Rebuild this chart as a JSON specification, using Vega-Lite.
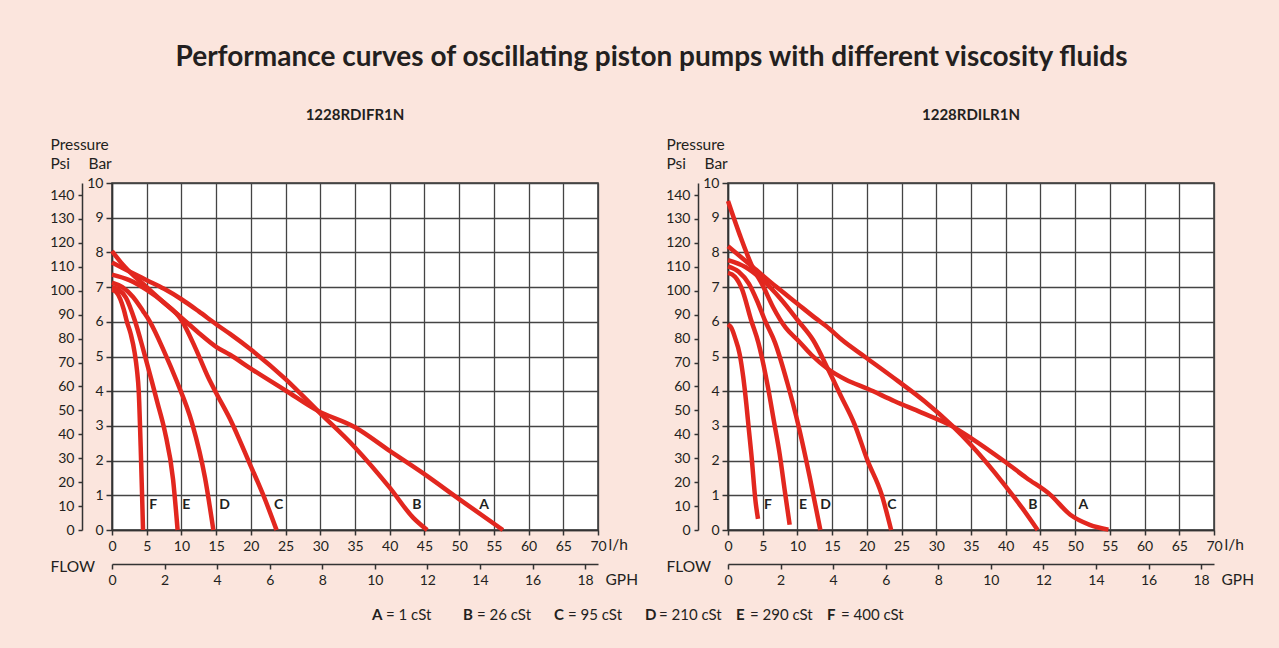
{
  "$schema": "https://vega.github.io/schema/vega-lite/v6.json",
  "background": "#fbe5dd",
  "padding": {"left": 48, "top": 44, "right": 60, "bottom": 40},
  "config": {
    "font": "Lato",
    "view": {"fill": "white", "stroke": "#333", "strokeWidth": 1.5},
    "axis": {
      "labelFont": "Lato", "labelFontSize": 14, "labelColor": "#231f20",
      "domainColor": "#333", "tickColor": "#333", "domainWidth": 1.5, "tickWidth": 1.5,
      "titleFont": "Lato", "titleFontSize": 15.5, "titleFontWeight": "normal", "titleColor": "#231f20",
      "gridColor": "#444", "gridWidth": 1.3, "gridOpacity": 1,
      "labelFlush": false, "labelOverlap": false, "labelBound": false
    }
  },
  "title": {"text": "Performance curves of oscillating piston pumps with different viscosity fluids", "font": "Lato", "fontSize": 28, "fontWeight": "bold", "color": "#231f20", "anchor": "middle", "offset": 35},
  "datasets": {
    "curves": [
      {"panel":"L","curve":"A","flow":0,"bar":8.04},{"panel":"L","curve":"A","flow":1.25,"bar":7.72},{"panel":"L","curve":"A","flow":2.5,"bar":7.45},{"panel":"L","curve":"A","flow":5,"bar":7.0},{"panel":"L","curve":"A","flow":7.5,"bar":6.55},{"panel":"L","curve":"A","flow":10,"bar":6.12},{"panel":"L","curve":"A","flow":12.5,"bar":5.68},{"panel":"L","curve":"A","flow":15,"bar":5.28},{"panel":"L","curve":"A","flow":17,"bar":5.05},{"panel":"L","curve":"A","flow":20,"bar":4.65},{"panel":"L","curve":"A","flow":25,"bar":4.02},{"panel":"L","curve":"A","flow":29.6,"bar":3.44},{"panel":"L","curve":"A","flow":35,"bar":2.96},{"panel":"L","curve":"A","flow":40,"bar":2.28},{"panel":"L","curve":"A","flow":45,"bar":1.61},{"panel":"L","curve":"A","flow":50,"bar":0.89},{"panel":"L","curve":"A","flow":56.3,"bar":0},
      {"panel":"L","curve":"B","flow":0,"bar":7.71},{"panel":"L","curve":"B","flow":2.5,"bar":7.45},{"panel":"L","curve":"B","flow":5,"bar":7.2},{"panel":"L","curve":"B","flow":7.5,"bar":6.95},{"panel":"L","curve":"B","flow":10,"bar":6.65},{"panel":"L","curve":"B","flow":12.5,"bar":6.3},{"panel":"L","curve":"B","flow":15,"bar":5.93},{"panel":"L","curve":"B","flow":17,"bar":5.65},{"panel":"L","curve":"B","flow":20,"bar":5.2},{"panel":"L","curve":"B","flow":25,"bar":4.35},{"panel":"L","curve":"B","flow":29.6,"bar":3.44},{"panel":"L","curve":"B","flow":35,"bar":2.38},{"panel":"L","curve":"B","flow":40,"bar":1.22},{"panel":"L","curve":"B","flow":43.4,"bar":0.35},{"panel":"L","curve":"B","flow":45.4,"bar":0},
      {"panel":"L","curve":"C","flow":0,"bar":7.36},{"panel":"L","curve":"C","flow":2.5,"bar":7.2},{"panel":"L","curve":"C","flow":5,"bar":6.92},{"panel":"L","curve":"C","flow":7.5,"bar":6.55},{"panel":"L","curve":"C","flow":10,"bar":6.05},{"panel":"L","curve":"C","flow":12,"bar":5.25},{"panel":"L","curve":"C","flow":13.85,"bar":4.4},{"panel":"L","curve":"C","flow":15,"bar":3.95},{"panel":"L","curve":"C","flow":17,"bar":3.2},{"panel":"L","curve":"C","flow":19.86,"bar":1.9},{"panel":"L","curve":"C","flow":22,"bar":0.9},{"panel":"L","curve":"C","flow":23.7,"bar":0},
      {"panel":"L","curve":"D","flow":0,"bar":7.13},{"panel":"L","curve":"D","flow":1.5,"bar":7.0},{"panel":"L","curve":"D","flow":3,"bar":6.72},{"panel":"L","curve":"D","flow":4.5,"bar":6.3},{"panel":"L","curve":"D","flow":5.47,"bar":6.0},{"panel":"L","curve":"D","flow":7.5,"bar":5.15},{"panel":"L","curve":"D","flow":9.3,"bar":4.3},{"panel":"L","curve":"D","flow":11.5,"bar":3.1},{"panel":"L","curve":"D","flow":13.4,"bar":1.5},{"panel":"L","curve":"D","flow":14.6,"bar":0},
      {"panel":"L","curve":"E","flow":0,"bar":7.0},{"panel":"L","curve":"E","flow":1,"bar":6.92},{"panel":"L","curve":"E","flow":2,"bar":6.7},{"panel":"L","curve":"E","flow":3.3,"bar":6.03},{"panel":"L","curve":"E","flow":4.5,"bar":5.2},{"panel":"L","curve":"E","flow":5.72,"bar":4.3},{"panel":"L","curve":"E","flow":6.5,"bar":3.7},{"panel":"L","curve":"E","flow":7.6,"bar":2.85},{"panel":"L","curve":"E","flow":8.8,"bar":1.45},{"panel":"L","curve":"E","flow":9.45,"bar":0},
      {"panel":"L","curve":"F","flow":0,"bar":6.92},{"panel":"L","curve":"F","flow":0.6,"bar":6.86},{"panel":"L","curve":"F","flow":1.2,"bar":6.65},{"panel":"L","curve":"F","flow":1.7,"bar":6.35},{"panel":"L","curve":"F","flow":2.15,"bar":6.0},{"panel":"L","curve":"F","flow":2.7,"bar":5.65},{"panel":"L","curve":"F","flow":3.27,"bar":5.1},{"panel":"L","curve":"F","flow":3.6,"bar":4.6},{"panel":"L","curve":"F","flow":3.85,"bar":4.0},{"panel":"L","curve":"F","flow":4.13,"bar":2.4},{"panel":"L","curve":"F","flow":4.33,"bar":1.03},{"panel":"L","curve":"F","flow":4.47,"bar":0},
      {"panel":"R","curve":"A","flow":0,"bar":9.48},{"panel":"R","curve":"A","flow":1.67,"bar":8.52},{"panel":"R","curve":"A","flow":3.57,"bar":7.56},{"panel":"R","curve":"A","flow":5,"bar":7.05},{"panel":"R","curve":"A","flow":6.5,"bar":6.42},{"panel":"R","curve":"A","flow":8.3,"bar":5.83},{"panel":"R","curve":"A","flow":10.2,"bar":5.44},{"panel":"R","curve":"A","flow":12,"bar":5.05},{"panel":"R","curve":"A","flow":14.4,"bar":4.64},{"panel":"R","curve":"A","flow":17,"bar":4.33},{"panel":"R","curve":"A","flow":20.1,"bar":4.07},{"panel":"R","curve":"A","flow":24,"bar":3.71},{"panel":"R","curve":"A","flow":27.8,"bar":3.39},{"panel":"R","curve":"A","flow":32.2,"bar":3.0},{"panel":"R","curve":"A","flow":35,"bar":2.65},{"panel":"R","curve":"A","flow":39.8,"bar":1.98},{"panel":"R","curve":"A","flow":43,"bar":1.5},{"panel":"R","curve":"A","flow":46.4,"bar":1.02},{"panel":"R","curve":"A","flow":49.3,"bar":0.44},{"panel":"R","curve":"A","flow":52.1,"bar":0.15},{"panel":"R","curve":"A","flow":54.8,"bar":0.01},
      {"panel":"R","curve":"B","flow":0,"bar":8.18},{"panel":"R","curve":"B","flow":3.57,"bar":7.58},{"panel":"R","curve":"B","flow":7,"bar":7.0},{"panel":"R","curve":"B","flow":10,"bar":6.52},{"panel":"R","curve":"B","flow":12.5,"bar":6.12},{"panel":"R","curve":"B","flow":14.6,"bar":5.8},{"panel":"R","curve":"B","flow":16.4,"bar":5.48},{"panel":"R","curve":"B","flow":19.8,"bar":4.98},{"panel":"R","curve":"B","flow":24.5,"bar":4.29},{"panel":"R","curve":"B","flow":28.3,"bar":3.71},{"panel":"R","curve":"B","flow":32.2,"bar":3.02},{"panel":"R","curve":"B","flow":35,"bar":2.45},{"panel":"R","curve":"B","flow":39.8,"bar":1.31},{"panel":"R","curve":"B","flow":42.5,"bar":0.6},{"panel":"R","curve":"B","flow":44.6,"bar":0},
      {"panel":"R","curve":"C","flow":0,"bar":7.78},{"panel":"R","curve":"C","flow":2.5,"bar":7.58},{"panel":"R","curve":"C","flow":5,"bar":7.2},{"panel":"R","curve":"C","flow":7.5,"bar":6.68},{"panel":"R","curve":"C","flow":10.1,"bar":6.03},{"panel":"R","curve":"C","flow":12.3,"bar":5.46},{"panel":"R","curve":"C","flow":14.4,"bar":4.64},{"panel":"R","curve":"C","flow":16.3,"bar":3.85},{"panel":"R","curve":"C","flow":18.2,"bar":3.06},{"panel":"R","curve":"C","flow":20.1,"bar":2.0},{"panel":"R","curve":"C","flow":22.1,"bar":1.04},{"panel":"R","curve":"C","flow":23.5,"bar":0},
      {"panel":"R","curve":"D","flow":0,"bar":7.6},{"panel":"R","curve":"D","flow":1.5,"bar":7.45},{"panel":"R","curve":"D","flow":3,"bar":7.1},{"panel":"R","curve":"D","flow":4.2,"bar":6.6},{"panel":"R","curve":"D","flow":5.3,"bar":6.05},{"panel":"R","curve":"D","flow":6.77,"bar":5.4},{"panel":"R","curve":"D","flow":8.6,"bar":4.2},{"panel":"R","curve":"D","flow":10.1,"bar":3.05},{"panel":"R","curve":"D","flow":11.75,"bar":1.55},{"panel":"R","curve":"D","flow":13.3,"bar":0},
      {"panel":"R","curve":"E","flow":0,"bar":7.41},{"panel":"R","curve":"E","flow":1,"bar":7.3},{"panel":"R","curve":"E","flow":2,"bar":6.95},{"panel":"R","curve":"E","flow":3.36,"bar":6.03},{"panel":"R","curve":"E","flow":4.37,"bar":5.4},{"panel":"R","curve":"E","flow":5.76,"bar":4.11},{"panel":"R","curve":"E","flow":6.6,"bar":3.15},{"panel":"R","curve":"E","flow":7.44,"bar":2.19},{"panel":"R","curve":"E","flow":8.2,"bar":1.1},{"panel":"R","curve":"E","flow":8.88,"bar":0.15},
      {"panel":"R","curve":"F","flow":0,"bar":5.93},{"panel":"R","curve":"F","flow":0.5,"bar":5.82},{"panel":"R","curve":"F","flow":1,"bar":5.55},{"panel":"R","curve":"F","flow":1.68,"bar":5.07},{"panel":"R","curve":"F","flow":2.2,"bar":4.4},{"panel":"R","curve":"F","flow":2.64,"bar":3.63},{"panel":"R","curve":"F","flow":3.0,"bar":2.9},{"panel":"R","curve":"F","flow":3.36,"bar":2.19},{"panel":"R","curve":"F","flow":3.98,"bar":0.8},{"panel":"R","curve":"F","flow":4.32,"bar":0.32}
    ],
    "labels": [
      {"panel":"L","label":"F","flow":5.93,"bar":0.73},{"panel":"L","label":"E","flow":10.7,"bar":0.73},{"panel":"L","label":"D","flow":16.2,"bar":0.73},{"panel":"L","label":"C","flow":24.0,"bar":0.73},{"panel":"L","label":"B","flow":43.9,"bar":0.73},{"panel":"L","label":"A","flow":53.6,"bar":0.73},
      {"panel":"R","label":"F","flow":5.76,"bar":0.73},{"panel":"R","label":"E","flow":10.8,"bar":0.73},{"panel":"R","label":"D","flow":14.05,"bar":0.73},{"panel":"R","label":"C","flow":23.6,"bar":0.73},{"panel":"R","label":"B","flow":43.9,"bar":0.73},{"panel":"R","label":"A","flow":51.2,"bar":0.73}
    ],
    "legend": [
      {"letter":"A","desc":"= 1 cSt"},{"letter":"B","desc":"= 26 cSt"},{"letter":"C","desc":"= 95 cSt"},{"letter":"D","desc":"= 210 cSt"},{"letter":"E","desc":"= 290 cSt"},{"letter":"F","desc":"= 400 cSt"}
    ]
  },
  "vconcat": [
    {
      "hconcat": [
        {
          "width": 486, "height": 347,
          "title": {"text": "1228RDIFR1N", "fontSize": 15, "fontWeight": "bold", "color": "#231f20", "anchor": "middle", "frame": "group", "offset": 14},
          "layer": [
            {
              "data": {"name": "curves"},
              "transform": [{"filter": "datum.panel === 'L'"}],
              "mark": {"type": "line", "color": "#e2271f", "strokeWidth": 4.5, "interpolate": "monotone"},
              "encoding": {
                "x": {"field": "flow", "type": "quantitative", "scale": {"domain": [0, 70], "nice": false},
                  "axis": {"orient": "bottom", "values": [0,5,10,15,20,25,30,35,40,45,50,55,60,65,70], "grid": true, "tickSize": 5, "labelPadding": 4, "title": "l/h", "titleX": 496, "titleY": 19, "titleAlign": "left", "titleBaseline": "alphabetic"}},
                "y": {"field": "bar", "type": "quantitative", "scale": {"domain": [0, 10], "nice": false},
                  "axis": {"orient": "left", "values": [0,1,2,3,4,5,6,7,8,9,10], "grid": true, "tickSize": 6, "labelPadding": 3, "title": "Bar", "titleAngle": 0, "titleX": -24, "titleY": -15, "titleAlign": "left", "titleBaseline": "alphabetic"}},
                "detail": {"field": "curve"}
              }
            },
            {
              "data": {"name": "labels"},
              "transform": [{"filter": "datum.panel === 'L'"}],
              "mark": {"type": "text", "fontWeight": "bold", "fontSize": 14, "color": "#231f20"},
              "encoding": {
                "x": {"field": "flow", "type": "quantitative",
                  "axis": {"orient": "bottom", "offset": 34, "values": [0,7.57082,15.14164,22.71246,30.28328,37.8541,45.42492,52.99574,60.56656,68.13738], "labelExpr": "format(datum.value/3.78541,'.0f')", "grid": false, "tickSize": 5, "labelPadding": 4, "title": "GPH", "titleX": 493, "titleY": 20, "titleAlign": "left", "titleBaseline": "alphabetic"}},
                "y": {"field": "bar", "type": "quantitative",
                  "axis": {"orient": "left", "offset": 30, "values": [0,0.689475,1.37895,2.068427,2.757903,3.447379,4.136854,4.82633,5.515806,6.205281,6.894757,7.584233,8.273709,8.963184,9.65266], "labelExpr": "format(datum.value*14.5038,'.0f')", "grid": false, "tickSize": 4, "labelPadding": 4, "title": ["Pressure", "Psi"], "titleAngle": 0, "titleX": -32, "titleY": -34, "titleAlign": "left", "titleBaseline": "alphabetic", "titleLineHeight": 19}},
                "text": {"field": "label"}
              }
            },
            {
              "data": {"name": "labels"},
              "transform": [{"filter": "datum.panel === 'L'"}],
              "mark": {"type": "text", "opacity": 0},
              "encoding": {
                "x": {"field": "flow", "type": "quantitative",
                  "axis": {"orient": "bottom", "offset": 34, "domain": false, "ticks": false, "labels": false, "grid": false, "title": "FLOW", "titleX": -62, "titleY": 7, "titleAlign": "left", "titleBaseline": "alphabetic"}},
                "y": {"field": "bar", "type": "quantitative", "axis": null},
                "text": {"field": "label"}
              }
            }
          ],
          "resolve": {"axis": {"x": "independent", "y": "independent"}}
        },
        {
          "width": 486, "height": 347,
          "title": {"text": "1228RDILR1N", "fontSize": 15, "fontWeight": "bold", "color": "#231f20", "anchor": "middle", "frame": "group", "offset": 14},
          "layer": [
            {
              "data": {"name": "curves"},
              "transform": [{"filter": "datum.panel === 'R'"}],
              "mark": {"type": "line", "color": "#e2271f", "strokeWidth": 4.5, "interpolate": "monotone"},
              "encoding": {
                "x": {"field": "flow", "type": "quantitative", "scale": {"domain": [0, 70], "nice": false},
                  "axis": {"orient": "bottom", "values": [0,5,10,15,20,25,30,35,40,45,50,55,60,65,70], "grid": true, "tickSize": 5, "labelPadding": 4, "title": "l/h", "titleX": 496, "titleY": 19, "titleAlign": "left", "titleBaseline": "alphabetic"}},
                "y": {"field": "bar", "type": "quantitative", "scale": {"domain": [0, 10], "nice": false},
                  "axis": {"orient": "left", "values": [0,1,2,3,4,5,6,7,8,9,10], "grid": true, "tickSize": 6, "labelPadding": 3, "title": "Bar", "titleAngle": 0, "titleX": -24, "titleY": -15, "titleAlign": "left", "titleBaseline": "alphabetic"}},
                "detail": {"field": "curve"}
              }
            },
            {
              "data": {"name": "labels"},
              "transform": [{"filter": "datum.panel === 'R'"}],
              "mark": {"type": "text", "fontWeight": "bold", "fontSize": 14, "color": "#231f20"},
              "encoding": {
                "x": {"field": "flow", "type": "quantitative",
                  "axis": {"orient": "bottom", "offset": 34, "values": [0,7.57082,15.14164,22.71246,30.28328,37.8541,45.42492,52.99574,60.56656,68.13738], "labelExpr": "format(datum.value/3.78541,'.0f')", "grid": false, "tickSize": 5, "labelPadding": 4, "title": "GPH", "titleX": 493, "titleY": 20, "titleAlign": "left", "titleBaseline": "alphabetic"}},
                "y": {"field": "bar", "type": "quantitative",
                  "axis": {"orient": "left", "offset": 30, "values": [0,0.689475,1.37895,2.068427,2.757903,3.447379,4.136854,4.82633,5.515806,6.205281,6.894757,7.584233,8.273709,8.963184,9.65266], "labelExpr": "format(datum.value*14.5038,'.0f')", "grid": false, "tickSize": 4, "labelPadding": 4, "title": ["Pressure", "Psi"], "titleAngle": 0, "titleX": -32, "titleY": -34, "titleAlign": "left", "titleBaseline": "alphabetic", "titleLineHeight": 19}},
                "text": {"field": "label"}
              }
            },
            {
              "data": {"name": "labels"},
              "transform": [{"filter": "datum.panel === 'R'"}],
              "mark": {"type": "text", "opacity": 0},
              "encoding": {
                "x": {"field": "flow", "type": "quantitative",
                  "axis": {"orient": "bottom", "offset": 34, "domain": false, "ticks": false, "labels": false, "grid": false, "title": "FLOW", "titleX": -62, "titleY": 7, "titleAlign": "left", "titleBaseline": "alphabetic"}},
                "y": {"field": "bar", "type": "quantitative", "axis": null},
                "text": {"field": "label"}
              }
            }
          ],
          "resolve": {"axis": {"x": "independent", "y": "independent"}}
        }
      ],
      "spacing": 130,
      "bounds": "flush"
    },
    {
      "width": 800, "height": 20,
      "view": {"fill": null, "stroke": null},
      "data": {"name": "legend"},
      "layer": [
        {
          "mark": {"type": "text", "fontWeight": "bold", "fontSize": 15, "align": "left", "color": "#231f20"},
          "encoding": {
            "x": {"field": "letter", "type": "ordinal", "sort": null, "scale": {"type": "point", "padding": 0, "range": [260, 715]}, "axis": null},
            "text": {"field": "letter"}
          }
        },
        {
          "mark": {"type": "text", "fontSize": 15, "align": "left", "dx": 14, "color": "#231f20"},
          "encoding": {
            "x": {"field": "letter", "type": "ordinal", "sort": null, "scale": {"type": "point", "padding": 0, "range": [260, 715]}, "axis": null},
            "text": {"field": "desc"}
          }
        }
      ]
    }
  ],
  "spacing": 16
}
